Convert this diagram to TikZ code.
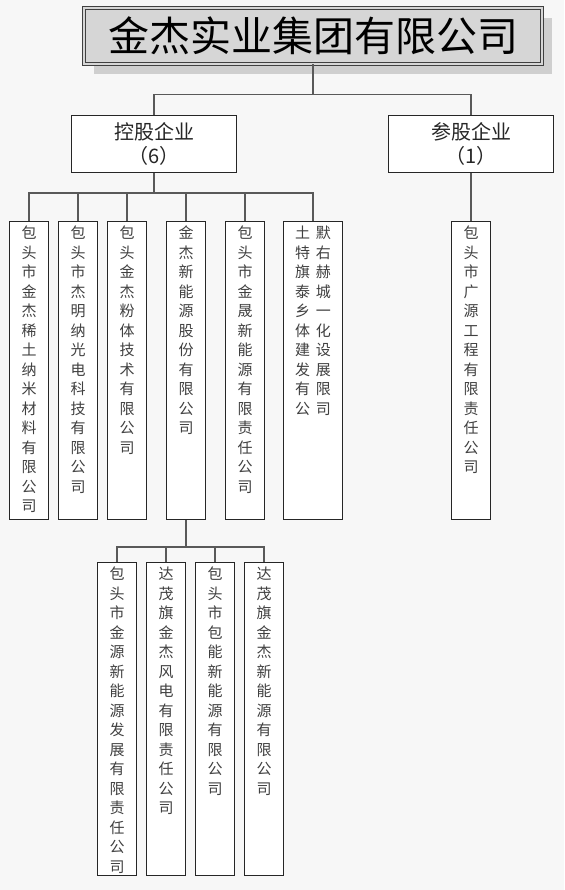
\documentclass[tikz,border=0pt]{standalone}
\usepackage{fontspec}
\setmainfont{Noto Sans CJK SC}
\XeTeXlinebreaklocale "zh"
\XeTeXlinebreakskip = 0pt plus 1pt
\usetikzlibrary{positioning}
\usetikzlibrary{calc}
\usetikzlibrary{shadows}

% Fixed gap between characters
\newcommand{\cjkgap}[1]{\XeTeXlinebreakskip=#1\relax}
% Two characters on one row
\newcommand{\twochars}[2]{#1\hspace{6pt}#2}

\begin{document}
\begin{tikzpicture}[x=1pt, y=-1pt,
    titlebox/.style={draw=black!75, line width=0.9pt, double=black!16, double distance=1.6pt, fill=black!16,
      minimum width=458pt, minimum height=56pt, inner sep=0pt, text=black,
      font=\fontsize{41}{41}\selectfont,
      drop shadow={shadow xshift=10pt, shadow yshift=-10pt, fill=black!19, opacity=1}},
    groupbox/.style={draw=black!85, fill=white, line width=1.1pt, minimum width=165pt, minimum height=57pt,
      align=center, inner sep=0pt, text=black!85, font=\fontsize{20}{24}\selectfont},
    unitbox/.style={draw=black!85, fill=white, line width=1.1pt, minimum width=39pt, minimum height=#1,
      inner sep=0pt, anchor=north},
    unitbox/.default=298pt,
    coltext/.style={anchor=north, inner sep=0pt, text width=16pt, align=center, text=black!75,
      font=\fontsize{15}{19.5}\selectfont},
    link/.style={draw=black!65, line width=1.4pt}]

        % Page background
        \fill[black!3] (0,0) rectangle (564,890);
        \useasboundingbox (0,0) rectangle (564,890);

        % Group company
        \node[titlebox] (title) at (313,36) {\cjkgap{4.5pt}金杰实业集团有限公司};

        % Holding and share companies
        \node[groupbox] (hold) at (154,144) {控股企业\\（6）};
        \node[groupbox] (part) at (471,144) {参股企业\\（1）};

        \draw[link] (title.south) -- ++(0,30) -| (hold.north);
        \draw[link] (title.south) -- ++(0,30) -| (part.north);

        % Top of the subsidiary boxes
        \def\rowtop{221}

        % Subsidiaries of the holding group
        \foreach \i/\cx/\txt in {1/29/包头市金杰稀土纳米材料有限公司,
                                 2/78/包头市杰明纳光电科技有限公司,
                                 3/127/包头金杰粉体技术有限公司,
                                 4/186/金杰新能源股份有限公司,
                                 5/245/包头市金晟新能源有限责任公司} {
          \node[unitbox] (s\i) at (\cx,\rowtop) {};
          \node[coltext] (s\i text) at ([yshift=-5pt]s\i.north) {\txt};
          \draw[link] (hold.south) -- ++(0,20) -| (s\i.north);
        }

        % The wide box has two characters per row
        \node[unitbox, minimum width=59pt] (s6) at (313,\rowtop) {};
        \node[coltext, text width=40pt] (s6text) at ([yshift=-5pt]s6.north)
          {\twochars{土}{默}\\\twochars{特}{右}\\\twochars{旗}{赫}\\\twochars{泰}{城}\\\twochars{乡}{一}\\
           \twochars{体}{化}\\\twochars{建}{设}\\\twochars{发}{展}\\\twochars{有}{限}\\\twochars{公}{司}};
        \draw[link] (hold.south) -- ++(0,20) -| (s6.north);

        % Subsidiary of the share group
        \node[unitbox] (p1) at (471,\rowtop) {};
        \node[coltext] (p1text) at ([yshift=-5pt]p1.north) {包头市广源工程有限责任公司};
        \draw[link] (part.south) -- (p1.north);

        % Companies under the new energy company
        \foreach \j/\cx/\txt in {1/117/包头市金源新能源发展有限责任公司,
                                 2/166/达茂旗金杰风电有限责任公司,
                                 3/215/包头市包能新能源有限公司,
                                 4/264/达茂旗金杰新能源有限公司} {
          \node[unitbox=313pt] (e\j) at (\cx,562) {};
          \node[coltext] (e\j text) at ([yshift=-5pt]e\j.north) {\txt};
          \draw[link] (s4.south) -- ++(0,27) -| (e\j.north);
        }

      \end{tikzpicture}
\end{document}
